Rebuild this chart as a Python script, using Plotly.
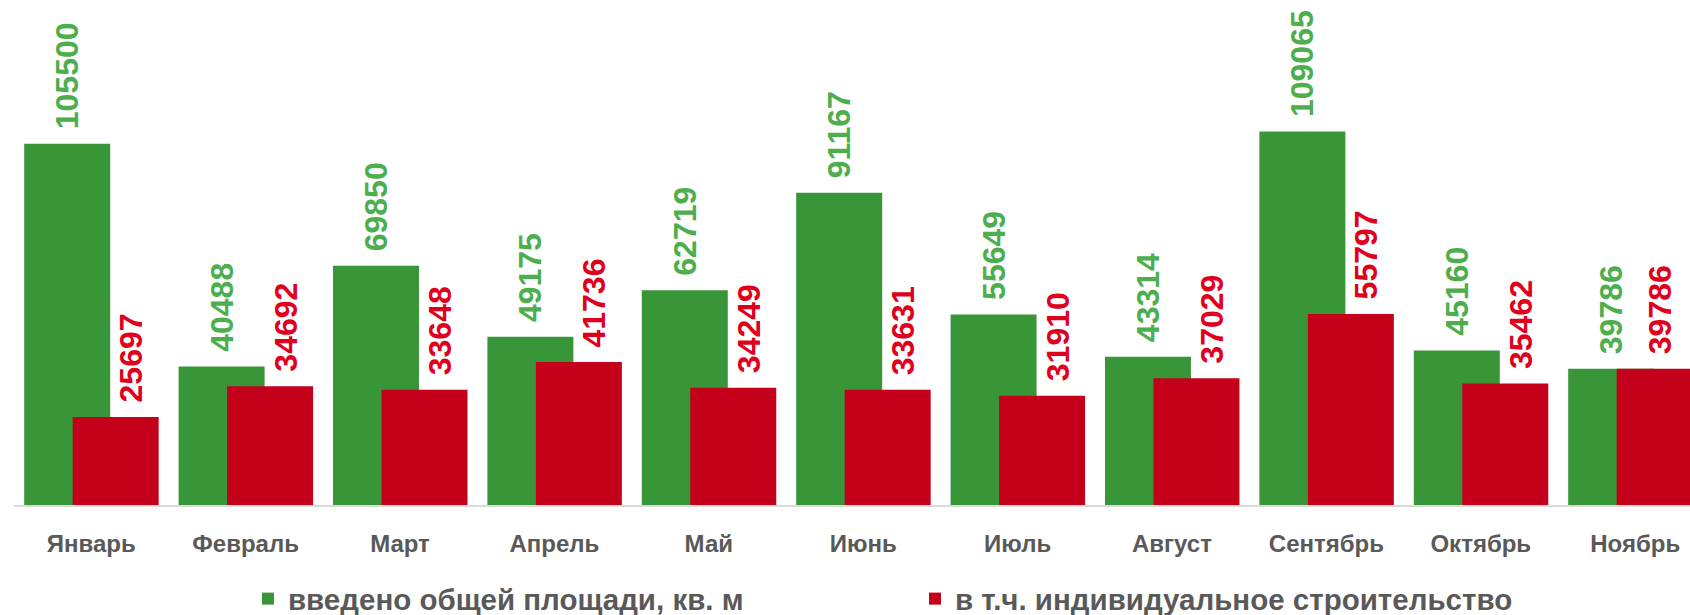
import plotly.graph_objects as go

months = ["Январь", "Февраль", "Март", "Апрель", "Май", "Июнь", "Июль",
          "Август", "Сентябрь", "Октябрь", "Ноябрь"]
total_area = [105500, 40488, 69850, 49175, 62719, 91167, 55649, 43314, 109065, 45160, 39786]
individual = [25697, 34692, 33648, 41736, 34249, 33631, 31910, 37029, 55797, 35462, 39786]

GREEN = "#389639"
GREEN_TEXT = "#4cae4c"
RED = "#c4001a"
RED_TEXT = "#e0001c"
GREY = "#595959"
FONT = "Liberation Sans"

BAR_W = 0.557
GREEN_OFF = -0.434
RED_OFF = -0.12
GAP = "\u00a0\u200a"  # small gap between bar top and its rotated label


def labels(values):
    return [GAP + str(v) for v in values]


# red labels sit a little right of the bar centre, except the last (clipped) bar
red_label_off = [RED_OFF + 0.1] * (len(months) - 1) + [RED_OFF]

label_font = dict(size=32, family=FONT, weight="bold")

fig = go.Figure()
fig.add_trace(go.Bar(
    x=months, y=total_area, name="введено общей площади, кв. м",
    marker=dict(color=GREEN, line=dict(width=0)),
    width=BAR_W, offset=GREEN_OFF,
    text=labels(total_area), texttemplate="%{text}",
    textposition="outside", textangle=-90, constraintext="none",
    textfont=dict(color=GREEN_TEXT, **label_font),
    cliponaxis=False, hoverinfo="skip",
))
fig.add_trace(go.Bar(
    x=months, y=individual, name="в т.ч. индивидуальное строительство",
    marker=dict(color=RED, line=dict(width=0)),
    width=BAR_W, offset=RED_OFF,
    hoverinfo="skip",
))
fig.add_trace(go.Bar(
    x=months, y=individual, showlegend=False,
    marker=dict(color="rgba(0,0,0,0)", line=dict(width=0)),
    width=BAR_W, offset=red_label_off,
    text=labels(individual), texttemplate="%{text}",
    textposition="outside", textangle=-90, constraintext="none",
    textfont=dict(color=RED_TEXT, **label_font),
    cliponaxis=False, hoverinfo="skip",
))

fig.update_layout(
    width=1690, height=615,
    barmode="overlay",
    paper_bgcolor="white", plot_bgcolor="white",
    margin=dict(l=14, r=0, t=0, b=110, autoexpand=False),
    font=dict(family=FONT, color=GREY),
    showlegend=True,
    legend=dict(
        orientation="h", x=0.1396, xanchor="left", y=-0.186, yanchor="middle",
        entrywidth=622, entrywidthmode="pixels",
        font=dict(size=29.5, color=GREY, family=FONT, weight="bold"),
        itemwidth=30, tracegroupgap=0,
    ),
)
fig.update_xaxes(
    range=[-0.5, 10.355],
    showline=True, linecolor="#d9d9d9", linewidth=2,
    showgrid=False, ticks="", ticklabelstandoff=16,
    tickfont=dict(size=24, color=GREY, family=FONT, weight="bold"),
)
fig.update_yaxes(
    range=[0, 147500], visible=False, showgrid=False, zeroline=False,
)

fig.write_html("out.html", config={"displayModeBar": False},
               post_script="document.body.style.margin = '0';")
